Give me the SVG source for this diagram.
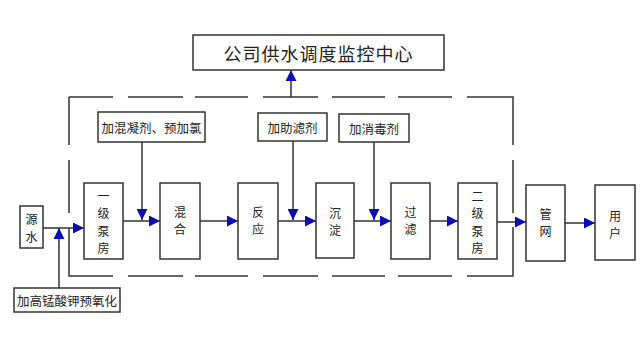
<svg xmlns="http://www.w3.org/2000/svg" width="642" height="350" viewBox="0 0 642 350">
<style>
.box{fill:#fff;stroke:#333;stroke-width:1.5}
.ln{fill:none;stroke:#333;stroke-width:1.5}
.dash{fill:none;stroke:#333;stroke-width:1.5}
.t{font-family:"Noto Sans CJK SC","Noto Sans",sans-serif;fill:#222;text-anchor:middle;dominant-baseline:central}
.s{font-size:12.5px}
.v{font-size:12px}
.big{font-size:18px;letter-spacing:1px}
</style>
<defs>
<marker id="ah" viewBox="0 0 10 10" refX="10" refY="5" markerWidth="11" markerHeight="11" markerUnits="userSpaceOnUse" orient="auto">
<path d="M0,0 L10,5 L0,10 Z" fill="#0c0cb0"/>
</marker>
</defs>
<rect width="642" height="350" fill="#fff"/>

<g id="boundary">
<path class="dash" d="M69 97H113M128 97H183M195 97H248M263 97H318M332 97H385M398 97H452M467 97H513V145M513 160V213M513 227V276H467M452 276H398M385 276H332M318 276H263M248 276H195M183 276H128M113 276H69V228M69 213V160M69 145V97"/>
</g>

<g id="connectors">
<path class="ln" d="M43 228H84" marker-end="url(#ah)"/>
<path class="ln" d="M59 288V228" marker-end="url(#ah)"/>
<path class="ln" d="M123 221H160" marker-end="url(#ah)"/>
<path class="ln" d="M142 142V220" marker-end="url(#ah)"/>
<path class="ln" d="M200 221H238" marker-end="url(#ah)"/>
<path class="ln" d="M278 221H316" marker-end="url(#ah)"/>
<path class="ln" d="M293 141V220" marker-end="url(#ah)"/>
<path class="ln" d="M354 221H391" marker-end="url(#ah)"/>
<path class="ln" d="M374 142V220" marker-end="url(#ah)"/>
<path class="ln" d="M430 221H458" marker-end="url(#ah)"/>
<path class="ln" d="M497 222H526" marker-end="url(#ah)"/>
<path class="ln" d="M565 223H595" marker-end="url(#ah)"/>
<path class="ln" d="M291 97V70" marker-end="url(#ah)"/>
</g>

<g id="center">
<rect class="box" x="193" y="35" width="251" height="35"/>
<text class="t big" x="318.5" y="52.5">公司供水调度监控中心</text>
</g>

<g id="dose1">
<rect class="box" x="98" y="112" width="107" height="30"/>
<text class="t s" x="151.5" y="127">加混凝剂、预加氯</text>
</g>
<g id="dose2">
<rect class="box" x="258" y="113" width="69" height="28"/>
<text class="t s" x="292.5" y="127">加助滤剂</text>
</g>
<g id="dose3">
<rect class="box" x="339" y="114" width="70" height="28"/>
<text class="t s" x="374" y="128">加消毒剂</text>
</g>
<g id="kmno4">
<rect class="box" x="14" y="288" width="106" height="24"/>
<text class="t s" x="67" y="300">加高锰酸钾预氧化</text>
</g>

<g id="source">
<rect class="box" x="20" y="206" width="23" height="42"/>
<text class="t v" x="31.5" y="218.5">源</text>
<text class="t v" x="31.5" y="236">水</text>
</g>
<g id="pump1">
<rect class="box" x="84" y="183" width="39" height="76"/>
<text class="t v" x="103.5" y="195">一</text>
<text class="t v" x="103.5" y="212.5">级</text>
<text class="t v" x="103.5" y="230">泵</text>
<text class="t v" x="103.5" y="247.5">房</text>
</g>
<g id="mix">
<rect class="box" x="160" y="183" width="40" height="76"/>
<text class="t v" x="180" y="211">混</text>
<text class="t v" x="180" y="228.5">合</text>
</g>
<g id="react">
<rect class="box" x="238" y="183" width="40" height="76"/>
<text class="t v" x="258" y="211">反</text>
<text class="t v" x="258" y="228.5">应</text>
</g>
<g id="settle">
<rect class="box" x="316" y="183" width="38" height="75"/>
<text class="t v" x="335" y="212">沉</text>
<text class="t v" x="335" y="229.5">淀</text>
</g>
<g id="filter">
<rect class="box" x="391" y="183" width="39" height="76"/>
<text class="t v" x="410.5" y="211">过</text>
<text class="t v" x="410.5" y="228.5">滤</text>
</g>
<g id="pump2">
<rect class="box" x="458" y="183" width="39" height="76"/>
<text class="t v" x="477.5" y="195">二</text>
<text class="t v" x="477.5" y="212.5">级</text>
<text class="t v" x="477.5" y="230">泵</text>
<text class="t v" x="477.5" y="247.5">房</text>
</g>
<g id="network">
<rect class="box" x="526" y="185" width="39" height="76"/>
<text class="t v" x="545.5" y="213">管</text>
<text class="t v" x="545.5" y="230.5">网</text>
</g>
<g id="user">
<rect class="box" x="595" y="185" width="40" height="75"/>
<text class="t v" x="615" y="215">用</text>
<text class="t v" x="615" y="232.5">户</text>
</g>
</svg>
